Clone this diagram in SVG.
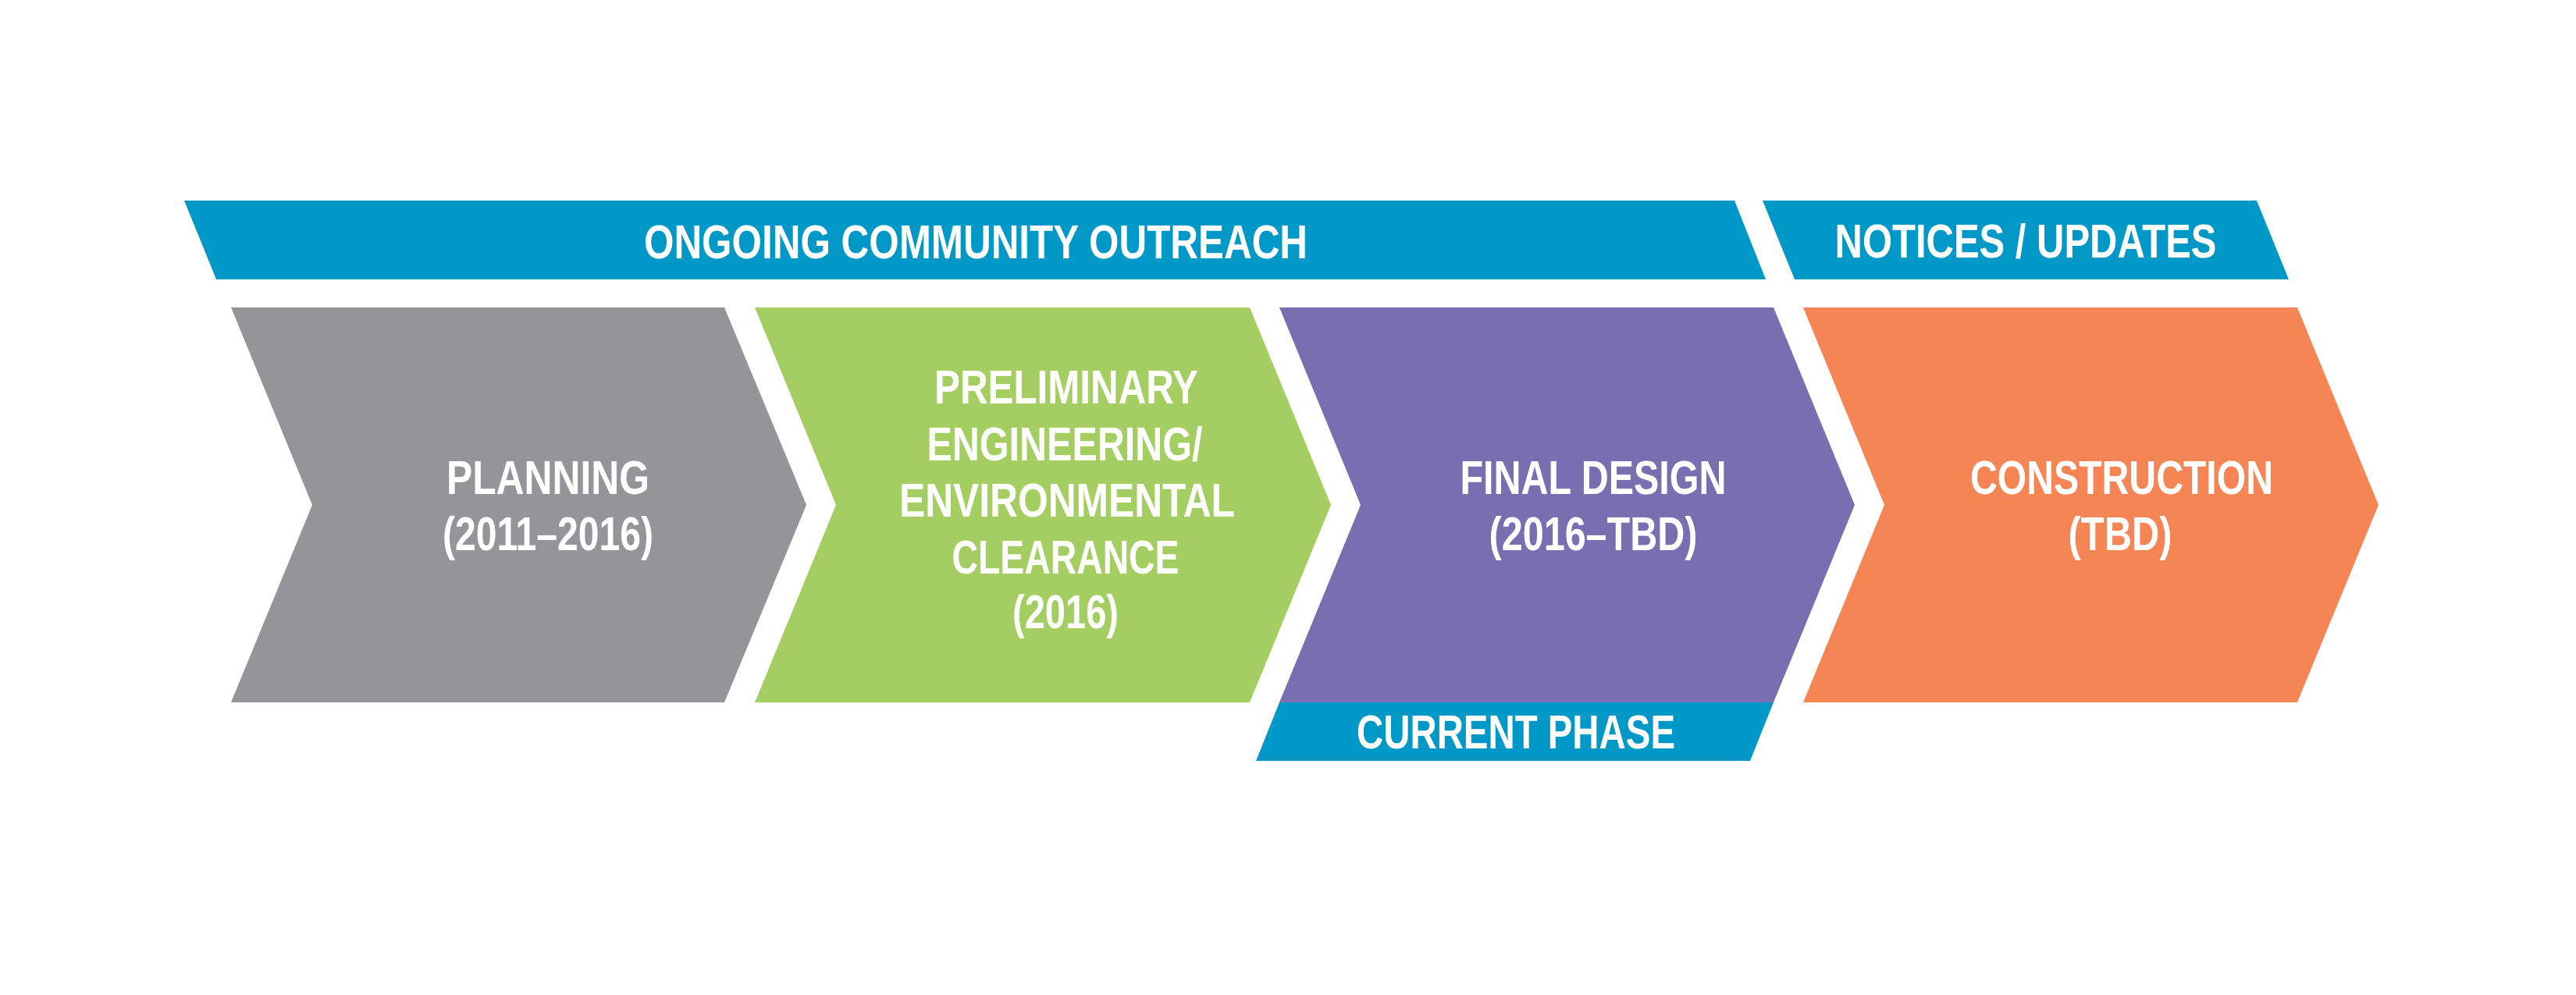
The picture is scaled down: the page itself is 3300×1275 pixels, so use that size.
<svg xmlns="http://www.w3.org/2000/svg" width="3300" height="1275" viewBox="0 0 3300 1275">
<style>
.lbl{font-family:"Liberation Sans",Arial,sans-serif;font-weight:bold;font-size:61px;fill:#ffffff;text-anchor:middle}
.blue{fill:#0098C6}
</style>
<rect width="3300" height="1275" fill="#ffffff"/>
<g id="outreach">
<polygon class="blue" points="236,257 2222,257 2262,358 277,358"/>
<text class="lbl" x="1250" y="331" textLength="850" lengthAdjust="spacingAndGlyphs">ONGOING COMMUNITY OUTREACH</text>
</g>
<g id="notices">
<polygon class="blue" points="2258,257 2891,257 2932,358 2299,358"/>
<text class="lbl" x="2595" y="330" textLength="489" lengthAdjust="spacingAndGlyphs">NOTICES / UPDATES</text>
</g>
<g id="planning">
<polygon fill="#949598" points="296,394 928,394 1033,647 928,900 296,900 400,647"/>
<text class="lbl" x="702" y="633" textLength="260" lengthAdjust="spacingAndGlyphs">PLANNING</text>
<text class="lbl" x="702" y="705" textLength="270" lengthAdjust="spacingAndGlyphs">(2011–2016)</text>
</g>
<g id="preliminary">
<polygon fill="#A4CE62" points="967,394 1601,394 1705,647 1601,900 967,900 1071,647"/>
<text class="lbl" x="1366" y="517" textLength="338" lengthAdjust="spacingAndGlyphs">PRELIMINARY</text>
<text class="lbl" x="1364" y="590" textLength="353" lengthAdjust="spacingAndGlyphs">ENGINEERING/</text>
<text class="lbl" x="1367" y="662" textLength="430" lengthAdjust="spacingAndGlyphs">ENVIRONMENTAL</text>
<text class="lbl" x="1365" y="735" textLength="291" lengthAdjust="spacingAndGlyphs">CLEARANCE</text>
<text class="lbl" x="1365" y="805" textLength="136" lengthAdjust="spacingAndGlyphs">(2016)</text>
</g>
<g id="final-design">
<polygon fill="#786FB1" points="1639,394 2272,394 2376,647 2272,900 1639,900 1743,647"/>
<text class="lbl" x="2041" y="633" textLength="341" lengthAdjust="spacingAndGlyphs">FINAL DESIGN</text>
<text class="lbl" x="2041" y="705" textLength="267" lengthAdjust="spacingAndGlyphs">(2016–TBD)</text>
</g>
<g id="construction">
<polygon fill="#F58555" points="2310,394 2943,394 3047,647 2943,900 2310,900 2414,647"/>
<text class="lbl" x="2718" y="633" textLength="388" lengthAdjust="spacingAndGlyphs">CONSTRUCTION</text>
<text class="lbl" x="2716" y="705" textLength="133" lengthAdjust="spacingAndGlyphs">(TBD)</text>
</g>
<g id="current-phase">
<polygon class="blue" points="1639,900 2272,900 2242,975 1609,975"/>
<text class="lbl" x="1942" y="959" textLength="408" lengthAdjust="spacingAndGlyphs">CURRENT PHASE</text>
</g>
<g id="connectors"></g>
</svg>
